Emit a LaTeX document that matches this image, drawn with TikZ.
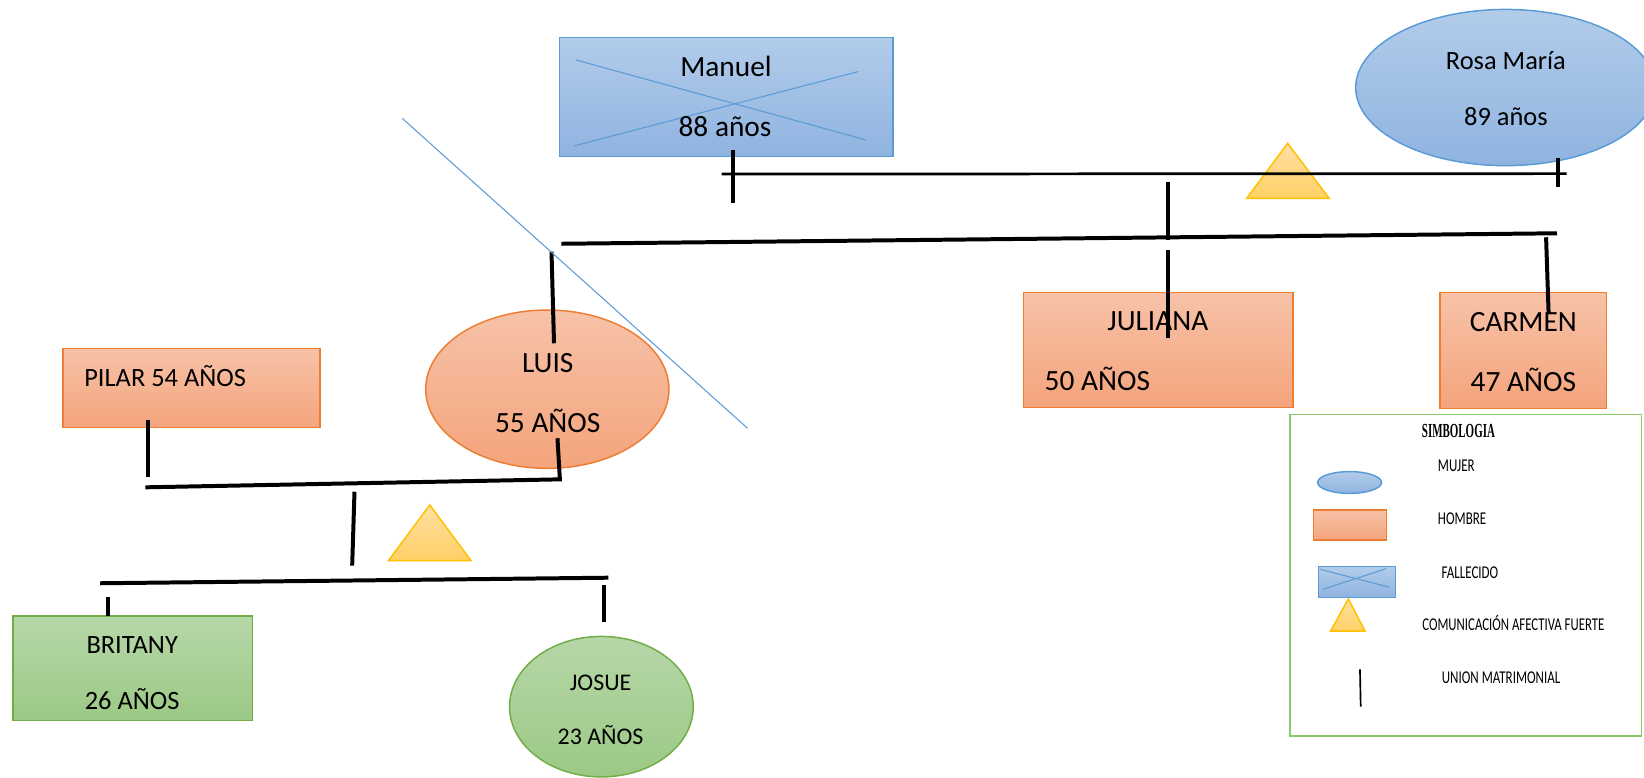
\documentclass[tikz,border=0pt]{standalone}
\usepackage{fontspec}
\setmainfont{Carlito}
\newfontfamily\symbfont{Liberation Serif}
\usetikzlibrary{shapes.geometric}
\definecolor{bluedraw}{HTML}{5B9BD5}
\definecolor{bluetop}{HTML}{B2CCEA}
\definecolor{bluebot}{HTML}{8FB3E0}
\definecolor{orangedraw}{HTML}{ED7D31}
\definecolor{orangetop}{HTML}{F7C2A8}
\definecolor{orangebot}{HTML}{F4A47C}
\definecolor{greendraw}{HTML}{70AD47}
\definecolor{greentop}{HTML}{B6D7A8}
\definecolor{greenbot}{HTML}{9CC985}
\definecolor{yellowdraw}{HTML}{FFC000}
\definecolor{yellowtop}{HTML}{FFE0A3}
\definecolor{yellowbot}{HTML}{FFD066}
\definecolor{legendgreen}{HTML}{8DC86A}
\begin{document}
\begin{tikzpicture}[x=0.5pt,y=-0.5pt,
  bluebox/.style={draw=bluedraw,line width=0.7pt,top color=bluetop,bottom color=bluebot,inner sep=0pt},
  orangebox/.style={draw=orangedraw,line width=0.7pt,top color=orangetop,bottom color=orangebot,inner sep=0pt},
  greenbox/.style={draw=greendraw,line width=0.7pt,top color=greentop,bottom color=greenbot,inner sep=0pt},
  yellowtri/.style={draw=yellowdraw,line width=0.7pt,top color=yellowtop,bottom color=yellowbot,line join=miter},
  famline/.style={line width=1.9pt,black},
  thinline/.style={line width=1.3pt,black},
  xline/.style={draw=bluedraw,line width=0.5pt},
  txtA/.style={inner sep=0pt,font=\fontsize{14}{16}\selectfont},
  txtB/.style={inner sep=0pt,font=\fontsize{12.6}{15}\selectfont},
  txtC/.style={inner sep=0pt,font=\fontsize{11.4}{13}\selectfont},
  lgdtxt/.style={inner sep=0pt,font=\fontsize{8.6}{10}\selectfont},
]
\useasboundingbox (0,0) rectangle (1568,742);
\clip (0,0) rectangle (1568,742);

% ---------- shapes ----------
\node[bluebox,rectangle,minimum width=159pt,minimum height=56.9pt] (manuel) at (692.5,92.5) {};
\draw[xline] (549.4,57.2) -- (826,133.5);
\draw[xline] (547.5,139.2) -- (818.6,68.3);
\node[bluebox,ellipse,minimum width=143pt,minimum height=74.5pt] (rosa) at (1436,83.5) {};
\node[orangebox,rectangle,minimum width=128.7pt,minimum height=54.9pt] (juliana) at (1104.7,334) {};
\node[orangebox,rectangle,minimum width=79.5pt,minimum height=55.2pt] (carmen) at (1452.9,334.2) {};
\node[orangebox,rectangle,minimum width=122.6pt,minimum height=37.7pt] (pilar) at (182.7,369.9) {};
\node[orangebox,ellipse,minimum width=116pt,minimum height=75.5pt] (luis) at (522,371.2) {};
\node[greenbox,rectangle,minimum width=114.3pt,minimum height=49.9pt] (britany) at (126.6,637.4) {};
\node[greenbox,ellipse,minimum width=87.6pt,minimum height=67pt] (josue) at (573.6,674) {};

\path[yellowtri] (1228.1,136.7) -- (1267.8,189.2) -- (1189,189.2) -- cycle;
\path[yellowtri] (409.9,481.6) -- (449.3,534.7) -- (370.5,534.7) -- cycle;

% ---------- texts ----------
\node[txtA] (tmanuel) at (692.4,63.6) {Manuel};
\node[txtA] (tmanuelage) at (691.5,121) {88 años};
\node[txtB] (trosa) at (1436.3,58) {Rosa María};
\node[txtB] (trosaage) at (1436.3,111) {89 años};
\node[txtA] (tjuliana) at (1104.3,306.8) {JULIANA};
\node[txtA,anchor=west] (tjulianaage) at (996,361) {50 AÑOS};
\node[txtA] (tcarmen) at (1452.9,306.8) {CARMEN};
\node[txtA] (tcarmenage) at (1452.9,362) {47 AÑOS};
\node[txtB,anchor=west] (tpilar) at (80,359) {PILAR 54 AÑOS};
\node[txtA] (tluis) at (522.4,346.5) {LUIS};
\node[txtA] (tluisage) at (522.4,401.5) {55 AÑOS};
\node[txtB] (tbritany) at (126.1,615.2) {BRITANY};
\node[txtB] (tbritanyage) at (126.1,666.5) {26 AÑOS};
\node[txtC] (tjosue) at (572.8,651.7) {JOSUE};
\node[txtC] (tjosueage) at (572.8,701) {23 AÑOS};

% ---------- connector end points ----------
\coordinate (topL) at (688.3,166);
\coordinate (topR) at (1494.2,165.6);
\coordinate (mtA) at (698.8,143);
\coordinate (mtB) at (698.8,193.3);
\coordinate (rtA) at (1486.2,151);
\coordinate (rtB) at (1486.2,178.7);
\coordinate (jvA) at (1114.3,173.3);
\coordinate (jvB) at (1114.3,228.9);
\coordinate (jvC) at (1114.3,238.4);
\coordinate (jvD) at (1114.3,322);
\coordinate (genL) at (535.4,232.5);
\coordinate (genR) at (1485,222.5);
\coordinate (cvA) at (1474.6,226.3);
\coordinate (cvB) at (1477,298.8);
\coordinate (lvA) at (526,240);
\coordinate (lvB) at (528.4,327.4);
\coordinate (pvA) at (141,400.6);
\coordinate (pvB) at (141,455);
\coordinate (lwA) at (531.7,418);
\coordinate (lwB) at (534,457.2);
\coordinate (mlL) at (138.7,464.8);
\coordinate (cdA) at (338.1,469);
\coordinate (cdB) at (335.9,539.5);
\coordinate (chL) at (95.4,556.3);
\coordinate (chR) at (580.2,551);
\coordinate (bvA) at (102.9,569);
\coordinate (bvB) at (102.9,587.5);
\coordinate (jsA) at (575.8,558);
\coordinate (jsB) at (575.8,593.6);
\coordinate (cutA) at (383.7,112.9);
\coordinate (cutB) at (713,408.5);

% ---------- connectors ----------
\draw[thinline] (topL) -- (topR);
\draw[famline] (mtA) -- (mtB);
\draw[famline] (rtA) -- (rtB);
\draw[famline] (jvA) -- (jvB);
\draw[famline] (jvC) -- (jvD);
\draw[famline] (genL) -- (genR);
\draw[famline] (cvA) -- (cvB);
\draw[famline] (lvA) -- (lvB);
\draw[famline] (pvA) -- (pvB);
\draw[famline,line join=miter] (mlL) -- (lwB) -- (lwA);
\draw[famline] (cdA) -- (cdB);
\draw[famline] (chL) -- (chR);
\draw[famline] (bvA) -- (bvB);
\draw[famline] (jsA) -- (jsB);
\draw[xline] (cutA) -- (cutB);

% ---------- legend ----------
\node[draw=legendgreen,line width=0.6pt,minimum width=167.7pt,minimum height=153.5pt,inner sep=0pt] (legend) at (1398,548.5) {};
\node[inner sep=0pt] (tsimb) at (1391,411.5) {\scalebox{0.55}[1]{\symbfont\bfseries\fontsize{9.5}{11}\selectfont SIMBOLOGIA}};
\node[bluebox,ellipse,minimum width=30.5pt,minimum height=10.4pt] (lmujer) at (1287.2,460.2) {};
\node[lgdtxt] (tmujer) at (1389,444) {\scalebox{0.72}[1]{MUJER}};
\node[orangebox,rectangle,minimum width=35pt,minimum height=14.3pt] (lhombre) at (1287.6,500.7) {};
\node[lgdtxt] (thombre) at (1394.5,495) {\scalebox{0.72}[1]{HOMBRE}};
\node[bluebox,rectangle,minimum width=36.9pt,minimum height=14.7pt] (lfall) at (1294.2,555) {};
\draw[xline] (1262,562) -- (1321.9,542.4);
\draw[xline] (1259,543) -- (1324.8,560);
\node[lgdtxt] (tfall) at (1402,546) {\scalebox{0.72}[1]{FALLECIDO}};
\path[yellowtri] (1286,571.2) -- (1302,602) -- (1269,602) -- cycle;
\node[lgdtxt] (tcom) at (1443.4,594) {\scalebox{0.71}[1]{COMUNICACIÓN AFECTIVA FUERTE}};
\coordinate (lgA) at (1297.1,638.4);
\coordinate (lgB) at (1297.8,674);
\draw[line width=0.8pt,black] (lgA) -- (lgB);
\node[lgdtxt] (tunion) at (1431.7,646) {\scalebox{0.72}[1]{UNION MATRIMONIAL}};
\end{tikzpicture}
\end{document}
